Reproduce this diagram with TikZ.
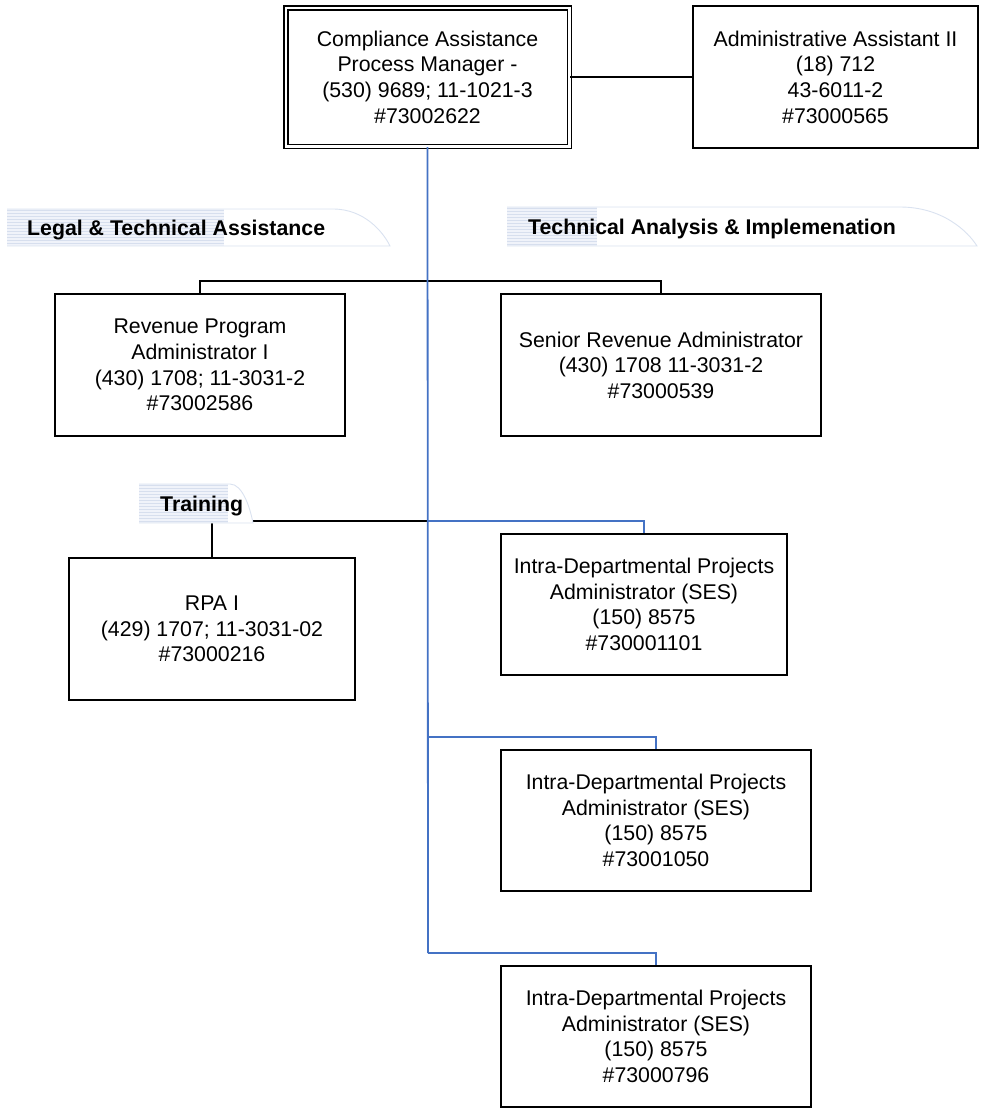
\documentclass[tikz,border=0pt]{standalone}
\usepackage{fontspec}
\setmainfont{Liberation Sans}
\usetikzlibrary{calc}

\definecolor{trunkblue}{RGB}{68,114,196}
\definecolor{tabwash}{RGB}{240,243,250}
\definecolor{tabstripe}{RGB}{215,223,238}
\definecolor{tabedge}{RGB}{218,226,240}

\newcommand\orgfont{\fontsize{21.3}{25.6}\selectfont}

% Section tab: #1 left, #2 top, #3 bottom, #4 end of striped part,
% #5 start of the rounded end, #6 end of the rounded end
\newcommand\sectiontab[6]{%
  \pgfmathsetmacro\tabca{#5+0.55*(#6-#5)}%
  \pgfmathsetmacro\tabcb{#6-0.12*(#6-#5)}%
  \pgfmathsetmacro\tabcy{#3-0.38*(#3-#2)}%
  \fill[white] (#1,#2) -- (#5,#2) .. controls (\tabca,#2) and (\tabcb,\tabcy) .. (#6,#3) -- (#1,#3) -- cycle;
  \fill[tabwash] (#1,#2) rectangle (#4,#3);
  \pgfmathsetmacro\tabya{#2+1.5}%
  \pgfmathsetmacro\tabyb{#2+4.5}%
  \foreach \yy in {\tabya,\tabyb,...,#3} {\draw[tabstripe, line width=0.6pt] (#1,\yy) -- (#4,\yy);}
  \draw[tabedge, line width=0.9pt] (#1,#2) -- (#5,#2) .. controls (\tabca,#2) and (\tabcb,\tabcy) .. (#6,#3) -- (#1,#3);
}

\begin{document}
\begin{tikzpicture}[x=1pt, y=-1pt,
  box/.style={draw, line width=2pt, rectangle, inner sep=0pt, align=center, font=\orgfont},
  headbox/.style={box, line width=1.5pt, double, double distance=2.5pt},
  link/.style={line width=2pt, black},
  trunk/.style={line width=1.8pt, trunkblue},
  tablabel/.style={inner sep=0pt, anchor=base west, font=\orgfont\bfseries}]

\useasboundingbox (0,0) rectangle (980,1111);

% positions
\node[headbox, minimum width=283.5pt, minimum height=138.5pt] (head) at (427.5,77)
  {Compliance Assistance\\Process Manager -\\(530) 9689; 11-1021-3\\\#73002622};
\node[box, minimum width=285pt, minimum height=142pt] (admin) at (835.5,77)
  {Administrative Assistant II\\(18) 712\\43-6011-2\\\#73000565};
\node[box, minimum width=290pt, minimum height=142pt] (rev) at (200,365)
  {Revenue Program\\Administrator I\\(430) 1708; 11-3031-2\\\#73002586};
\node[box, minimum width=320pt, minimum height=142pt] (senior) at (661,365)
  {Senior Revenue Administrator\\(430) 1708 11-3031-2\\\#73000539};
\node[box, minimum width=286pt, minimum height=142pt] (rpa) at (212,629)
  {RPA I\\(429) 1707; 11-3031-02\\\#73000216};
\node[box, minimum width=286pt, minimum height=141pt] (ipa) at (644,604.5)
  {Intra-Departmental Projects\\Administrator (SES)\\(150) 8575\\\#730001101};
\node[box, minimum width=310pt, minimum height=141pt] (ipb) at (656,820.5)
  {Intra-Departmental Projects\\Administrator (SES)\\(150) 8575\\\#73001050};
\node[box, minimum width=310pt, minimum height=141pt] (ipc) at (656,1036.5)
  {Intra-Departmental Projects\\Administrator (SES)\\(150) 8575\\\#73000796};

% junctions on the trunk
\coordinate (barmid) at (428,281);
\coordinate (jone) at (428,521);
\coordinate (jtwo) at (428,737);
\coordinate (jthree) at (428,953);

% black connectors
\draw[link] (head.east) -- (admin.west);
\draw[link] (rev.north) |- (barmid) -| (senior.north);
\draw[link] (rpa.north) |- (jone);

% blue trunk and its branches
\draw[trunk] (head.south) -- (jthree);
\draw[trunk] (jone) -| (ipa.north);
\draw[trunk] (jtwo) -| (ipb.north);
\draw[trunk] (jthree) -| (ipc.north);

% section tabs
\sectiontab{7}{209}{246}{224}{333}{390}
\node[tablabel] (legal) at (27,235) {Legal \& Technical Assistance};
\sectiontab{507}{207}{246}{597}{900}{977}
\node[tablabel] (techan) at (528,234) {Technical Analysis \& Implemenation};
\sectiontab{139}{484}{523}{228}{230}{253}
\node[tablabel] (training) at (160,511) {Training};

\end{tikzpicture}
\end{document}
